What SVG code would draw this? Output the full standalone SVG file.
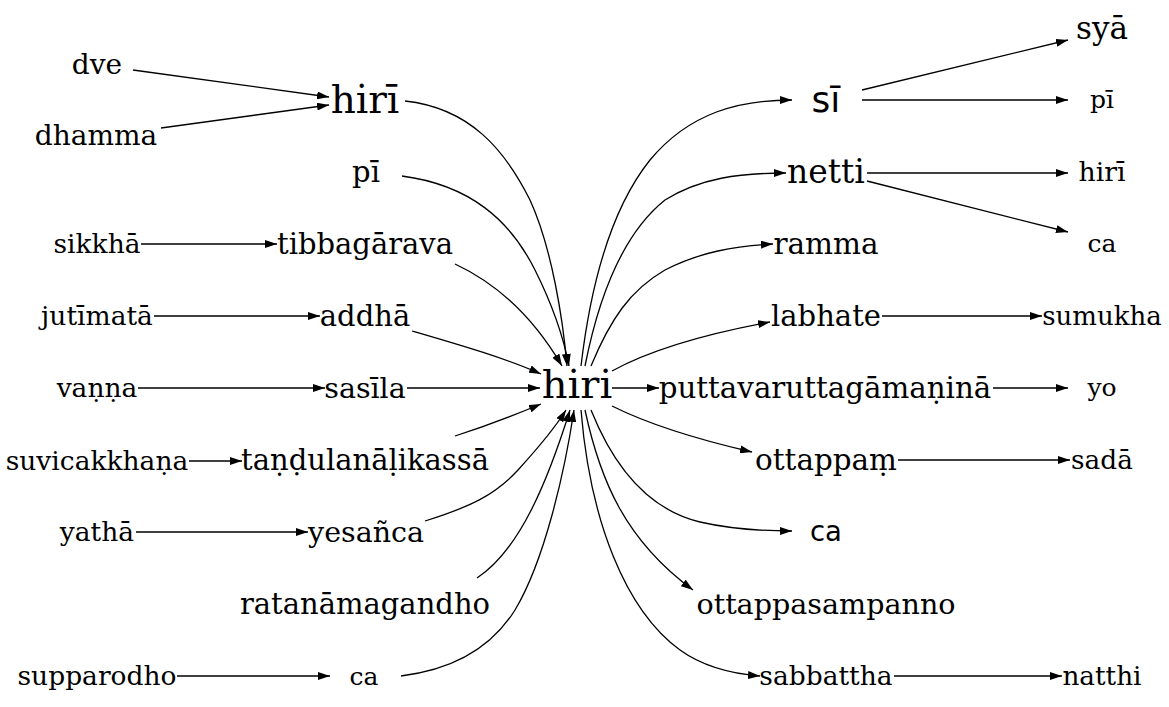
<svg xmlns="http://www.w3.org/2000/svg" width="1169" height="707" viewBox="0 0 1169 707">
<defs>
<marker id="ah" markerWidth="12" markerHeight="8" refX="12" refY="4" orient="auto" markerUnits="userSpaceOnUse">
<path d="M0,0 L12,4 L0,8 z" fill="#000"/>
</marker>
<style>
text{font-family:"DejaVu Serif","Liberation Serif",serif;text-anchor:middle;fill:#000}
.sans{font-family:"DejaVu Sans","Liberation Sans",sans-serif}
#edges path{fill:none;stroke:#000;stroke-width:1.3;marker-end:url(#ah)}
</style>
</defs>
<rect width="1169" height="707" fill="#fff"/>
<g id="edges">
<path d="M133,70 L329,97"/>
<path d="M161,128 L329,105"/>
<path d="M141,244 L277,244"/>
<path d="M154,316 L320,316"/>
<path d="M138,388 L325,388"/>
<path d="M189,461 L242,461"/>
<path d="M136,532 L308,532"/>
<path d="M177,676 L330,676"/>
<path d="M405,101 C470,108 505,150 530,200 C552,248 563,320 567,366"/>
<path d="M402,176 C470,185 510,220 535,270 C555,310 565,345 569,366"/>
<path d="M455,264 C500,285 535,320 562,366"/>
<path d="M412,331 C460,345 505,358 541,374"/>
<path d="M407,388 L540,388"/>
<path d="M455,436 C480,428 510,417 541,404"/>
<path d="M425,521 C470,507 495,495 518,470 C538,448 555,428 566,410"/>
<path d="M477,578 C520,550 548,480 570,410"/>
<path d="M401,676 C450,670 490,650 515,610 C545,560 565,470 574,410"/>
<path d="M581,366 C590,290 610,210 650,160 C690,112 740,100 792,100"/>
<path d="M585,366 C600,290 625,232 665,200 C700,178 740,173 786,173"/>
<path d="M591,366 C610,320 630,290 665,270 C700,252 735,246 773,244"/>
<path d="M612,371 C650,350 700,335 770,322"/>
<path d="M612,388 L659,388"/>
<path d="M612,406 C650,425 700,440 752,452"/>
<path d="M591,410 C615,470 650,510 700,522 C735,530 765,531 792,531"/>
<path d="M585,410 C600,480 625,540 693,590"/>
<path d="M581,410 C590,520 625,610 680,650 C705,668 735,674 760,676"/>
<path d="M862,90 L1068,40"/>
<path d="M862,100 L1068,100"/>
<path d="M867,173 L1068,173"/>
<path d="M867,181 L1068,232"/>
<path d="M882,316 L1042,316"/>
<path d="M993,388 L1068,388"/>
<path d="M898,460 L1070,460"/>
<path d="M894,676 L1062,676"/>
</g>
<g id="n_dve"><text x="97" y="74" font-size="28">dve</text></g>
<g id="n_dhamma"><text x="96" y="145" font-size="28">dhamma</text></g>
<g id="n_sikkha"><text x="97" y="253" font-size="26.5">sikkhā</text></g>
<g id="n_jutimata"><text x="97" y="325" font-size="26.5">jutīmatā</text></g>
<g id="n_vanna"><text x="97" y="397" font-size="26.5">vaṇṇa</text></g>
<g id="n_suvicakkhana"><text x="97" y="470" font-size="26.5">suvicakkhaṇa</text></g>
<g id="n_yatha"><text x="97" y="541" font-size="26.5">yathā</text></g>
<g id="n_supparodho"><text x="97" y="685" font-size="26.5">supparodho</text></g>
<g id="n_hiri_top"><text x="365" y="113" font-size="39">hirī</text></g>
<g id="n_pi_left"><text x="366" y="182" font-size="29">pī</text></g>
<g id="n_tibbagarava"><text x="365" y="254" font-size="29">tibbagārava</text></g>
<g id="n_addha"><text x="365" y="326" font-size="29">addhā</text></g>
<g id="n_sasila"><text x="365" y="398" font-size="28.5">sasīla</text></g>
<g id="n_tandula"><text x="365" y="470" font-size="29">taṇḍulanāḷikassā</text></g>
<g id="n_yesanca"><text x="366" y="542" font-size="28.5">yesañca</text></g>
<g id="n_ratana"><text x="365" y="614" font-size="29">ratanāmagandho</text></g>
<g id="n_ca_left"><text x="364" y="685" font-size="25">ca</text></g>
<g id="n_hiri"><text x="577" y="398" font-size="40">hiri</text></g>
<g id="n_si"><text class="sans" x="826" y="112" font-size="36">sī</text></g>
<g id="n_netti"><text x="826" y="183" font-size="33">netti</text></g>
<g id="n_ramma"><text x="826" y="254" font-size="29.5">ramma</text></g>
<g id="n_labhate"><text x="826" y="326" font-size="29">labhate</text></g>
<g id="n_puttavar"><text x="825" y="398" font-size="29.3">puttavaruttagāmaṇinā</text></g>
<g id="n_ottappam"><text x="826" y="470" font-size="29.4">ottappaṃ</text></g>
<g id="n_ca_mid"><text class="sans" x="826" y="541" font-size="27.5">ca</text></g>
<g id="n_ottappasampanno"><text x="826" y="614" font-size="28.6">ottappasampanno</text></g>
<g id="n_sabbattha"><text x="826" y="685" font-size="26.5">sabbattha</text></g>
<g id="n_sya"><text x="1102" y="39" font-size="31">syā</text></g>
<g id="n_pi_right"><text x="1102" y="108" font-size="25">pī</text></g>
<g id="n_hiri_right"><text x="1102" y="181" font-size="26.7">hirī</text></g>
<g id="n_ca_right"><text x="1102" y="252" font-size="25">ca</text></g>
<g id="n_sumukha"><text x="1102" y="325" font-size="26">sumukha</text></g>
<g id="n_yo"><text x="1102" y="396" font-size="25">yo</text></g>
<g id="n_sada"><text x="1102" y="469" font-size="26.4">sadā</text></g>
<g id="n_natthi"><text x="1102" y="685" font-size="26.3">natthi</text></g>
</svg>
